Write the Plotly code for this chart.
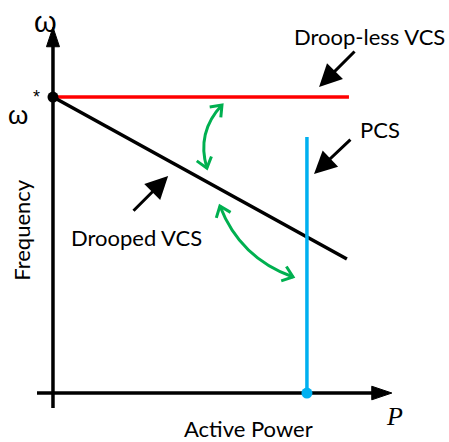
import math
import plotly.graph_objects as go

# curvas em p.u. (P no eixo x, frequência no eixo y)
droopless_p = [0.0, 1.0]
droopless_w = [1.0, 1.0]
drooped_p = [0.0, 0.993]
drooped_w = [1.0, 0.453]
pcs_p = [0.858, 0.858]
pcs_w = [0.0, 0.865]

# pontos marcados
nominal_point = [0.0, 1.0]
pcs_point = [0.858, 0.0]

# setas verdes curvas: início, controle, fim
green_arrows = [
    [(0.571, 0.973), (0.484, 0.881), (0.520, 0.760)],
    [(0.564, 0.632), (0.632, 0.456), (0.811, 0.392)],
]

# rótulos com setas pretas: texto, posição do texto, cauda, ponta
labels = [
    ("Droop-less VCS", (1.071, 1.203), (1.024, 1.159), (0.899, 1.034)),
    ("PCS", (1.105, 0.889), (1.010, 0.861), (0.882, 0.740)),
    ("Drooped VCS", (0.282, 0.524), (0.267, 0.611), (0.389, 0.733)),
]

GREEN = "#00B050"
BLUE = "#00B0F0"
TXT = "Lato"


def chevron(tip, ctrl, length=0.042, spread=38):
    """Ponta aberta (V) de uma seta, alinhada com a tangente da curva."""
    dx, dy = ctrl[0] - tip[0], ctrl[1] - tip[1]
    ang = math.atan2(dy, dx)
    pts = []
    for s in (-spread, spread):
        a = ang + math.radians(s)
        pts.append((tip[0] + length * math.cos(a), tip[1] + length * math.sin(a)))
    return f"M {pts[0][0]},{pts[0][1]} L {tip[0]},{tip[1]} L {pts[1][0]},{pts[1][1]}"


fig = go.Figure()

fig.add_trace(go.Scatter(x=droopless_p, y=droopless_w, mode="lines",
                         line=dict(color="#FF0000", width=3.5)))
fig.add_trace(go.Scatter(x=drooped_p, y=drooped_w, mode="lines",
                         line=dict(color="black", width=3.5)))
fig.add_trace(go.Scatter(x=pcs_p, y=pcs_w, mode="lines",
                         line=dict(color=BLUE, width=3.5)))
fig.add_trace(go.Scatter(x=[nominal_point[0]], y=[nominal_point[1]], mode="markers",
                         marker=dict(color="black", size=11)))
fig.add_trace(go.Scatter(x=[pcs_point[0]], y=[pcs_point[1]], mode="markers",
                         marker=dict(color=BLUE, size=11)))

shapes = []
# eixos
shapes.append(dict(type="line", x0=-0.054, y0=0, x1=1.09, y1=0,
                   line=dict(color="black", width=3.5)))
shapes.append(dict(type="line", x0=0, y0=-0.051, x1=0, y1=1.18,
                   line=dict(color="black", width=3.5)))
shapes.append(dict(type="path", path="M 1.145,0 L 1.077,0.023 L 1.077,-0.023 Z",
                   fillcolor="black", line=dict(color="black", width=1)))
shapes.append(dict(type="path", path="M 0,1.236 L -0.022,1.17 L 0.022,1.17 Z",
                   fillcolor="black", line=dict(color="black", width=1)))

for start, ctrl, end in green_arrows:
    shapes.append(dict(type="path",
                       path=f"M {start[0]},{start[1]} Q {ctrl[0]},{ctrl[1]} {end[0]},{end[1]}",
                       line=dict(color=GREEN, width=3)))
    shapes.append(dict(type="path", path=chevron(start, ctrl), line=dict(color=GREEN, width=3)))
    shapes.append(dict(type="path", path=chevron(end, ctrl), line=dict(color=GREEN, width=3)))

for s in shapes:
    s.update(xref="x", yref="y", layer="below" if s["type"] == "line" else "above")

annotations = []
for text, pos, tail, head in labels:
    annotations.append(dict(x=pos[0], y=pos[1], text=text, showarrow=False,
                            font=dict(family=TXT, size=22, color="black")))
    annotations.append(dict(x=head[0], y=head[1], ax=tail[0], ay=tail[1],
                            axref="x", ayref="y", text="", showarrow=True,
                            arrowhead=2, arrowsize=1.5, arrowwidth=3, arrowcolor="black"))

annotations += [
    dict(x=-0.105, y=0.551, text="Frequency", textangle=-90, showarrow=False,
         font=dict(family=TXT, size=22, color="black")),
    dict(x=0.659, y=-0.121, text="Active Power", showarrow=False, borderpad=0,
         font=dict(family=TXT, size=22, color="black")),
    dict(x=1.155, y=-0.078, text="<i>P</i>", showarrow=False,
         font=dict(family="Liberation Serif", size=26, color="black")),
    dict(x=-0.024, y=1.255, text="ω", showarrow=False, borderpad=0,
         font=dict(family="Liberation Sans", size=29, color="black")),
    dict(x=-0.118, y=0.94, text="ω", showarrow=False, borderpad=0,
         font=dict(family="Liberation Sans", size=26, color="black")),
    dict(x=-0.055, y=1.0, text="*", showarrow=False,
         font=dict(family="Liberation Sans", size=18, color="black")),
]

fig.update_layout(
    width=449, height=442,
    margin=dict(l=0, r=0, t=0, b=0),
    showlegend=False,
    plot_bgcolor="white", paper_bgcolor="white",
    xaxis=dict(range=[-0.179, 1.338], visible=False, fixedrange=True),
    yaxis=dict(range=[-0.1655, 1.328], visible=False, fixedrange=True),
    shapes=shapes,
    annotations=annotations,
)

# tira a margem padrão do body para a figura ocupar a janela toda
fig.write_html("out.html", config={"displayModeBar": False},
               post_script="document.body.style.margin = '0px';")
